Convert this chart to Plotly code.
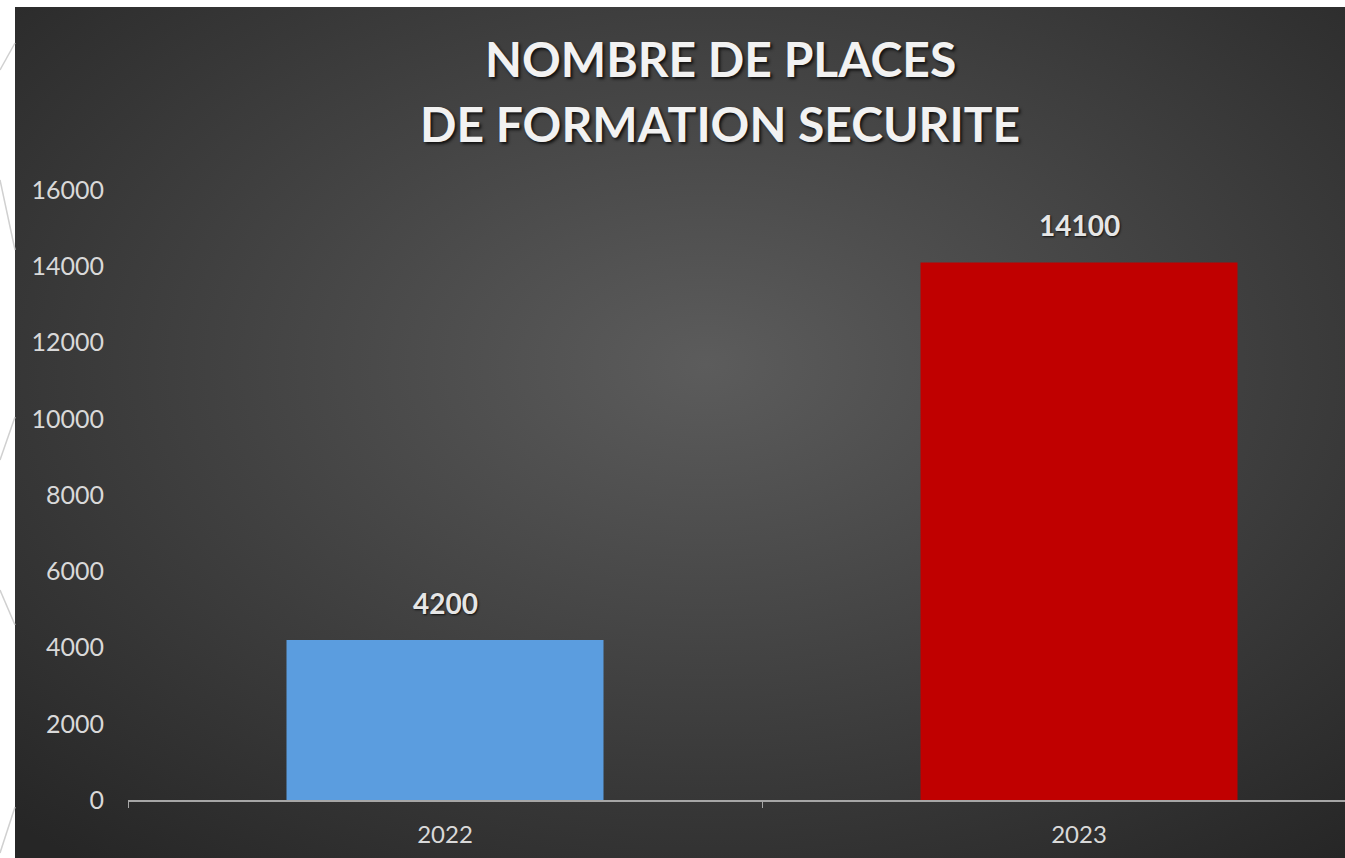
import base64
import plotly.graph_objects as go

years = ['2022', '2023']
places = [4200, 14100]
bar_colors = ['#5b9ddf', '#c00000']
y_ticks = [0, 2000, 4000, 6000, 8000, 10000, 12000, 14000, 16000]
title_lines = ['NOMBRE DE PLACES', 'DE FORMATION SECURITE']

W, H = 1345, 858
L, T, B = 128, 190, 58          # plot area in pixels
PW, PH = W - L, H - T - B


def px(x):
    return (x - L) / PW


def py(y):
    return (H - B - y) / PH


# dark radial background as an svg image
svg = ('<svg xmlns="http://www.w3.org/2000/svg" width="1330" height="851">'
       '<defs><radialGradient id="g" cx="52%" cy="42%" r="75%">'
       '<stop offset="0%" stop-color="#5c5c5c"/>'
       '<stop offset="100%" stop-color="#262626"/>'
       '</radialGradient></defs>'
       '<rect width="1330" height="851" fill="url(#g)"/></svg>')
bg_src = 'data:image/svg+xml;base64,' + base64.b64encode(svg.encode()).decode()

fig = go.Figure()

fig.add_trace(go.Bar(
    x=years,
    y=places,
    width=0.5,
    marker=dict(color=bar_colors, line=dict(width=0)),
    hoverinfo='x+y',
))

label_font = dict(family='Lato', size=28, color='#e6e6e6', weight='bold',
                  shadow='1px 1px 2px #111')

# value labels above the bars (category index as x)
for i, v in enumerate(places):
    fig.add_annotation(x=i, y=v, text=str(v), showarrow=False,
                       yanchor='bottom', yshift=18, font=label_font)

# two-line title
title_font = dict(family='Lato', size=48, color='#f2f2f2', weight='bold',
                  shadow='2px 2px 3px #111')
for line, ypos in zip(title_lines, [58, 123]):
    fig.add_annotation(xref='paper', yref='paper', x=px(720), y=py(ypos),
                       text=line, showarrow=False, xanchor='center',
                       yanchor='middle', font=title_font)

# faint decorative lines on the left white strip
deco = [(15, 43, 0, 70), (0, 180, 15, 250), (15, 417, 0, 460),
        (0, 590, 15, 625), (15, 807, 0, 853)]
for x0, y0, x1, y1 in deco:
    fig.add_shape(type='line', xref='paper', yref='paper',
                  x0=px(x0), y0=py(y0), x1=px(x1), y1=py(y1),
                  line=dict(color='#d0d0d0', width=1.5))

fig.update_layout(
    width=W, height=H,
    margin=dict(l=L, r=0, t=T, b=B),
    paper_bgcolor='white',
    plot_bgcolor='rgba(0,0,0,0)',
    showlegend=False,
    images=[dict(source=bg_src, xref='paper', yref='paper',
                 x=px(15), y=py(7), sizex=px(W) - px(15), sizey=py(7) - py(H),
                 xanchor='left', yanchor='top', sizing='stretch',
                 layer='below')],
    font=dict(family='Lato', color='#d9d9d9'),
)

fig.update_xaxes(
    type='category',
    range=[-0.5, PW / 634 - 0.5],
    showline=True, linecolor='#a6a6a6', linewidth=1.5,
    ticks='outside', tickson='boundaries', ticklen=6, tickcolor='#a6a6a6',
    tickfont=dict(family='Lato', size=24, color='#d9d9d9'),
    ticklabelstandoff=12,
    showgrid=False, zeroline=False,
)

fig.update_yaxes(
    range=[0, 16000],
    tickvals=y_ticks,
    ticktext=[str(t) for t in y_ticks],
    showline=False, showgrid=False, zeroline=False,
    ticks='',
    tickfont=dict(family='Lato', size=25, color='#d9d9d9'),
    ticklabelstandoff=23,
)

fig.write_html('out.html',
               config={'displayModeBar': False},
               post_script="document.body.style.margin='0';"
                           "document.body.style.overflow='hidden';")
